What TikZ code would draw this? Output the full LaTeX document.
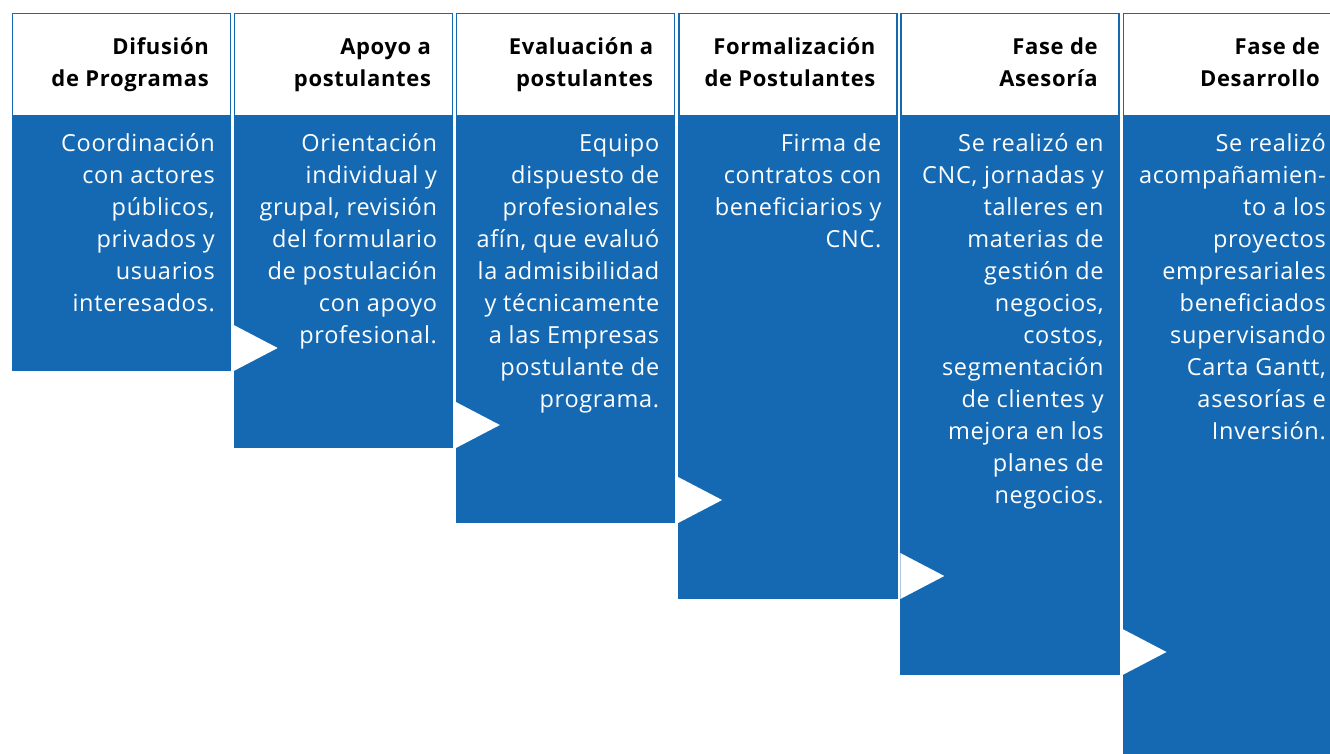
\documentclass[tikz,border=0pt]{standalone}
\usepackage{fontspec}
\setmainfont{Open Sans}
\definecolor{pblue}{HTML}{1569B3}
\tikzset{
  hdbox/.style={draw=pblue, line width=1.4pt, fill=white},
  bdbox/.style={fill=pblue},
  arrowtri/.style={fill=white},
  hdtext/.style={inner sep=0pt, align=right, text=black, font=\fontsize{22}{32}\selectfont\bfseries\addfontfeatures{LetterSpace=3}},
  bdtext/.style={inner sep=0pt, align=right, text=white, font=\fontsize{23.5}{32}\selectfont\addfontfeatures{LetterSpace=3}},
}
\newcommand{\fs}{\rule{0pt}{20pt}}
\begin{document}
\begin{tikzpicture}[x=1pt,y=-1pt]
\useasboundingbox (0,0) rectangle (1330,754);
\clip (0,0) rectangle (1330,754);
% columns: left x, bottom y
\foreach \L/\B in {11.5/371, 233.7/448, 455.9/523, 678.1/599, 900.3/675, 1122.5/760}{
  \fill[bdbox] (\L,116) rectangle (\L+219.5,\B);
  \draw[hdbox] (\L+0.7,13.7) rectangle (\L+219.5-0.7,116);
}
% triangles
\foreach \L/\B in {233.7/371, 455.9/448, 678.1/523, 900.3/599, 1122.5/675}{
  \fill[arrowtri] (\L,\B-46) -- (\L+44,\B-23) -- (\L,\B) -- cycle;
}
% headers
\node[hdtext, anchor=north east] (h1) at (209,34) {\fs Difusión\\de Programas};
\node[hdtext, anchor=north east] (h2) at (431.2,34) {\fs Apoyo a\\postulantes};
\node[hdtext, anchor=north east] (h3) at (653.4,34) {\fs Evaluación a\\postulantes};
\node[hdtext, anchor=north east] (h4) at (875.6,34) {\fs Formalización\\de Postulantes};
\node[hdtext, anchor=north east] (h5) at (1097.8,34) {\fs Fase de\\Asesoría};
\node[hdtext, anchor=north east] (h6) at (1320,34) {\fs Fase de\\Desarrollo};
% bodies
\node[bdtext, anchor=north east] (b1) at (215,131) {\fs Coordinación\\con actores\\públicos,\\privados y\\usuarios\\interesados.};
\node[bdtext, anchor=north east] (b2) at (437.2,131) {\fs Orientación\\individual y\\grupal, revisión\\del formulario\\de postulación\\con apoyo\\profesional.};
\node[bdtext, anchor=north east] (b3) at (659.4,131) {\fs Equipo\\dispuesto de\\profesionales\\afín, que evaluó\\la admisibilidad\\y técnicamente\\a las Empresas\\postulante de\\programa.};
\node[bdtext, anchor=north east] (b4) at (881.6,131) {\fs Firma de\\contratos con\\beneficiarios y\\CNC.};
\node[bdtext, anchor=north east] (b5) at (1103.8,131) {\fs Se realizó en\\CNC, jornadas y\\talleres en\\materias de\\gestión de\\negocios,\\costos,\\segmentación\\de clientes y\\mejora en los\\planes de\\negocios.};
\node[bdtext, anchor=north east] (b6) at (1326,131) {\fs Se realizó\\acompañamien-\\to a los\\proyectos\\empresariales\\beneficiados\\supervisando\\Carta Gantt,\\asesorías e\\Inversión.};
\end{tikzpicture}
\end{document}
